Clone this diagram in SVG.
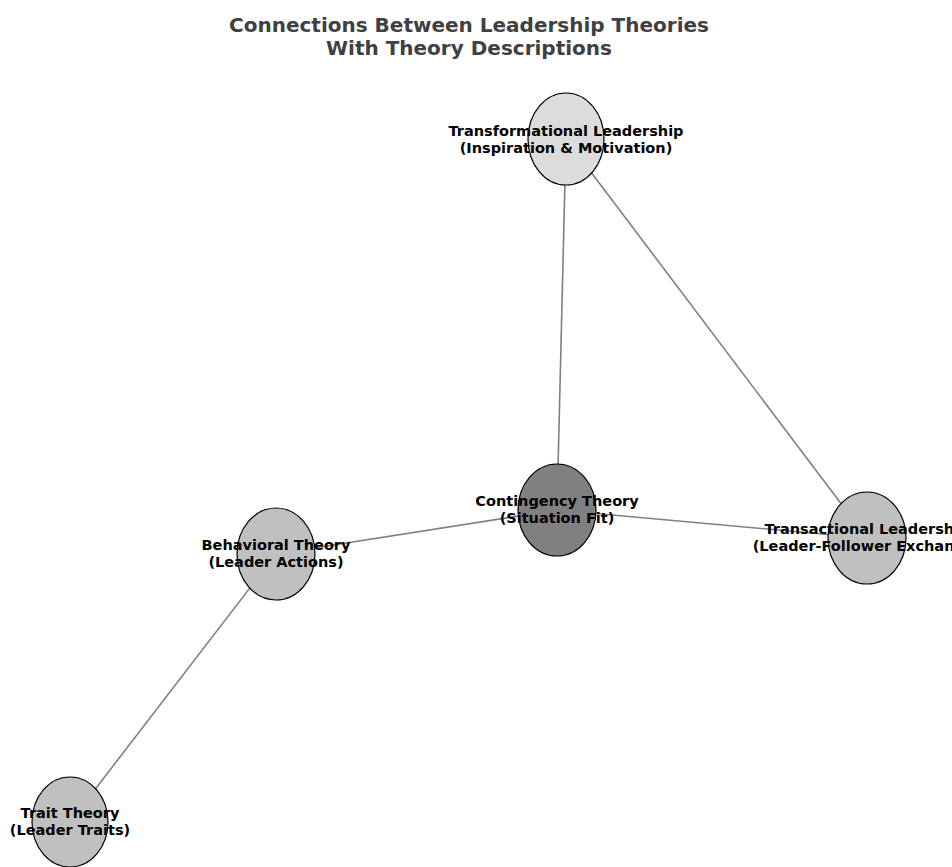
<svg xmlns="http://www.w3.org/2000/svg" width="952" height="867" viewBox="0 0 952 867">
<style>
.title{font-family:"DejaVu Sans",sans-serif;font-weight:bold;font-size:20px;fill:#404040;text-anchor:middle}
.lbl{font-family:"DejaVu Sans",sans-serif;font-weight:bold;font-size:14.5px;fill:#000;text-anchor:middle}
.edge{stroke:#808080;stroke-width:1.6;fill:none}
.node{stroke:#000;stroke-width:1.2}
</style>
<rect width="952" height="867" fill="#fff"/>
<text class="title" x="469" y="32">Connections Between Leadership Theories</text>
<text class="title" x="469" y="55">With Theory Descriptions</text>
<g id="edges">
<line class="edge" x1="566" y1="139" x2="557" y2="510"/>
<line class="edge" x1="566" y1="139" x2="867" y2="538"/>
<line class="edge" x1="557" y1="510" x2="276" y2="554"/>
<line class="edge" x1="557" y1="510" x2="867" y2="538"/>
<line class="edge" x1="276" y1="554" x2="70" y2="822"/>
</g>
<g id="transformational">
<ellipse class="node" cx="566" cy="139" rx="38" ry="46" fill="#dcdcdc"/>
<text class="lbl" x="566" y="136">Transformational Leadership</text>
<text class="lbl" x="566" y="153">(Inspiration &amp; Motivation)</text>
</g>
<g id="contingency">
<ellipse class="node" cx="557" cy="510" rx="39" ry="46" fill="#808080"/>
<text class="lbl" x="557" y="506">Contingency Theory</text>
<text class="lbl" x="557" y="523">(Situation Fit)</text>
</g>
<g id="transactional">
<ellipse class="node" cx="867" cy="538" rx="39" ry="46" fill="#c0c0c0"/>
<text class="lbl" x="867" y="534">Transactional Leadership</text>
<text class="lbl" x="867" y="551">(Leader-Follower Exchange)</text>
</g>
<g id="behavioral">
<ellipse class="node" cx="276" cy="554" rx="39" ry="46" fill="#c0c0c0"/>
<text class="lbl" x="276" y="550">Behavioral Theory</text>
<text class="lbl" x="276" y="567">(Leader Actions)</text>
</g>
<g id="trait">
<ellipse class="node" cx="70" cy="822" rx="38" ry="45" fill="#c0c0c0"/>
<text class="lbl" x="70" y="818">Trait Theory</text>
<text class="lbl" x="70" y="835">(Leader Traits)</text>
</g>
</svg>
